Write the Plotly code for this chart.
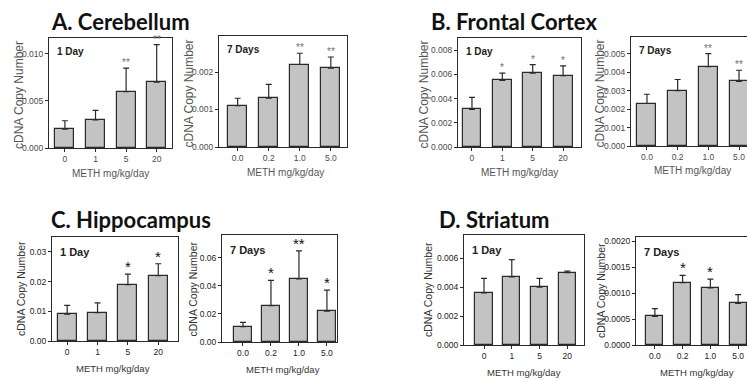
import plotly.graph_objects as go

W, H = 747, 380

# ---------------- data ----------------
cats_1day = ["0", "1", "5", "20"]
cats_7day = ["0.0", "0.2", "1.0", "5.0"]

cereb_1d = [0.0020, 0.0030, 0.0060, 0.0070]
cereb_1d_err = [0.0009, 0.0010, 0.0025, 0.0040]
cereb_1d_sig = ["", "", "**", "**"]
cereb_7d = [0.0011, 0.0013, 0.0022, 0.0021]
cereb_7d_err = [0.0002, 0.00037, 0.0003, 0.0003]
cereb_7d_sig = ["", "", "**", "**"]

front_1d = [0.0031, 0.0055, 0.0061, 0.0059]
front_1d_err = [0.0010, 0.0006, 0.0007, 0.0008]
front_1d_sig = ["", "*", "*", "*"]
front_7d = [0.0023, 0.0030, 0.0043, 0.0035]
front_7d_err = [0.0005, 0.0006, 0.0007, 0.0006]
front_7d_sig = ["", "", "**", "**"]

hippo_1d = [0.0090, 0.0095, 0.0190, 0.0220]
hippo_1d_err = [0.0030, 0.0033, 0.0035, 0.0040]
hippo_1d_sig = ["", "", "*", "*"]
hippo_7d = [0.011, 0.026, 0.045, 0.022]
hippo_7d_err = [0.003, 0.018, 0.020, 0.015]
hippo_7d_sig = ["", "*", "**", "*"]

stria_1d = [0.0036, 0.0047, 0.0040, 0.0050]
stria_1d_err = [0.0010, 0.0012, 0.0006, 0.0001]
stria_1d_sig = ["", "", "", ""]
stria_7d = [0.00055, 0.0012, 0.0011, 0.0008]
stria_7d_err = [0.00015, 0.00014, 0.00017, 0.00017]
stria_7d_sig = ["", "*", "*", ""]

region_titles = ["A. Cerebellum", "B. Frontal Cortex", "C. Hippocampus", "D. Striatum"]
x_title = "METH mg/kg/day"
y_title = "cDNA Copy Number"

# --------------- layout config (pixels) ---------------
panels = [
    dict(cats=cats_1day, v=cereb_1d, e=cereb_1d_err, s=cereb_1d_sig, label="1 Day",
         box=(49, 172, 38, 148), xr=[-0.52, 3.5], yr=[0, 0.0117], dt=0.005, fmt=".3f",
         g="top", ytx=19, xtx=110),
    dict(cats=cats_7day, v=cereb_7d, e=cereb_7d_err, s=cereb_7d_sig, label="7 Days",
         box=(219, 347, 36, 147), xr=[-0.6, 3.52], yr=[0, 0.00296], dt=0.001, fmt=".3f",
         g="top", ytx=189, xtx=285),
    dict(cats=cats_1day, v=front_1d, e=front_1d_err, s=front_1d_sig, label="1 Day",
         box=(458, 581, 38, 147), xr=[-0.46, 3.59], yr=[0, 0.0090], dt=0.002, fmt=".3f",
         g="top", ytx=423, xtx=519),
    dict(cats=cats_7day, v=front_7d, e=front_7d_err, s=front_7d_sig, label="7 Days",
         box=(631, 747, 37, 146), xr=[-0.52, 3.26], yr=[0, 0.0059], dt=0.001, fmt=".3f",
         g="top", ytx=600, xtx=692, open_right=True),
    dict(cats=cats_1day, v=hippo_1d, e=hippo_1d_err, s=hippo_1d_sig, label="1 Day",
         box=(52, 178, 237, 341), xr=[-0.5, 3.65], yr=[0, 0.035], dt=0.01, fmt=".2f",
         g="bot", ytx=21, xtx=113),
    dict(cats=cats_7day, v=hippo_7d, e=hippo_7d_err, s=hippo_7d_sig, label="7 Days",
         box=(222, 337, 235, 342), xr=[-0.75, 3.36], yr=[0, 0.0764], dt=0.02, fmt=".2f",
         g="bot", ytx=192, xtx=283),
    dict(cats=cats_1day, v=stria_1d, e=stria_1d_err, s=stria_1d_sig, label="1 Day",
         box=(464, 584, 235, 345), xr=[-0.72, 3.6], yr=[0, 0.0076], dt=0.002, fmt=".3f",
         g="bot", ytx=428, xtx=524),
    dict(cats=cats_7day, v=stria_7d, e=stria_7d_err, s=stria_7d_sig, label="7 Days",
         box=(636, 747, 237, 345), xr=[-0.68, 3.32], yr=[0, 0.00208], dt=0.0005, fmt=".4f",
         g="bot", ytx=601, xtx=697, open_right=True),
]

title_pos = [(49, 22), (429, 22), (49, 219), (437, 219)]

SANS = "Liberation Sans, Arial, sans-serif"

def px(x):
    return x / W

def py(y):
    return 1 - y / H

fig = go.Figure()
annotations = []

for i, p in enumerate(panels, start=1):
    sfx = "" if i == 1 else str(i)
    x0, x1, y0, y1 = p["box"]
    top = p["g"] == "top"
    fig.add_trace(go.Bar(
        x=list(range(len(p["cats"]))), y=p["v"],
        width=0.62,
        marker=dict(color="#c3c3c3", line=dict(color="#2a2a2a", width=1.2)),
        error_y=dict(type="data", array=p["e"], arrayminus=[0] * len(p["e"]),
                     symmetric=False, color="#2a2a2a", thickness=1.2, width=3),
        xaxis="x" + sfx, yaxis="y" + sfx, showlegend=False, hoverinfo="skip",
    ))
    tick_font = dict(family=SANS, size=8.5, color="#4a4a4a" if top else "#222")
    common = dict(showgrid=False, zeroline=False, showline=True, linecolor="#2a2a2a",
                  linewidth=1.2, ticks="outside", ticklen=3, tickcolor="#2a2a2a",
                  tickfont=tick_font, fixedrange=True, automargin=False,
                  ticklabeloverflow="allow")
    fig.layout["xaxis" + sfx] = dict(
        domain=[px(x0), min(px(x1), 1.0)], anchor="y" + sfx,
        range=p["xr"], tickmode="array", tickvals=list(range(len(p["cats"]))),
        ticktext=p["cats"], mirror=True, **common,
    )
    fig.layout["yaxis" + sfx] = dict(
        domain=[py(y1), py(y0)], anchor="x" + sfx,
        range=p["yr"], dtick=p["dt"], tick0=0, tickformat=p["fmt"],
        mirror=False if p.get("open_right") else True, **common,
    )
    # significance stars
    for k, (val, err, sig) in enumerate(zip(p["v"], p["e"], p["s"])):
        if sig:
            annotations.append(dict(
                x=k, y=val + err, xref="x" + sfx, yref="y" + sfx,
                text=sig, showarrow=False, yanchor="bottom", yshift=-2 if top else -3,
                font=dict(family=SANS, size=10 if top else 15,
                          color="#707070" if top else "#111"),
            ))
    # day label
    annotations.append(dict(
        x=px(x0 + 6), y=py(y0 + (14 if top else 15)), xref="paper", yref="paper",
        text="<b>" + p["label"] + "</b>", showarrow=False, xanchor="left", yanchor="middle",
        font=dict(family=SANS, size=10 if top else 11, color="#222"),
    ))
    # y title
    annotations.append(dict(
        x=px(p["ytx"]), y=py((y0 + y1) / 2 + (2 if top else 0)),
        xref="paper", yref="paper", text=y_title, textangle=-90, showarrow=False,
        xanchor="center", yanchor="middle",
        font=dict(family=SANS, size=12 if top else 10.5, color="#555" if top else "#333"),
    ))
    # x title
    annotations.append(dict(
        x=px(p["xtx"]), y=py(y1 + (25 if top else 27)), xref="paper", yref="paper",
        text=x_title, showarrow=False, xanchor="center", yanchor="middle",
        font=dict(family=SANS, size=10 if top else 9.5,
                  color="#555" if top else "#333"),
    ))

for t, (tx, ty) in zip(region_titles, title_pos):
    annotations.append(dict(
        x=px(tx), y=py(ty), xref="paper", yref="paper", text="<b>" + t + "</b>",
        showarrow=False, xanchor="left", yanchor="middle",
        font=dict(family="Lato, Open Sans, sans-serif", size=22, color="#111"),
    ))

fig.update_layout(
    width=W, height=H, margin=dict(l=0, r=0, t=0, b=0, autoexpand=False),
    paper_bgcolor="white", plot_bgcolor="white",
    annotations=annotations, bargap=0,
)

fig.write_html("out.html", config={"displayModeBar": False},
               post_script="document.body.style.margin='0';document.body.style.overflow='hidden';")
